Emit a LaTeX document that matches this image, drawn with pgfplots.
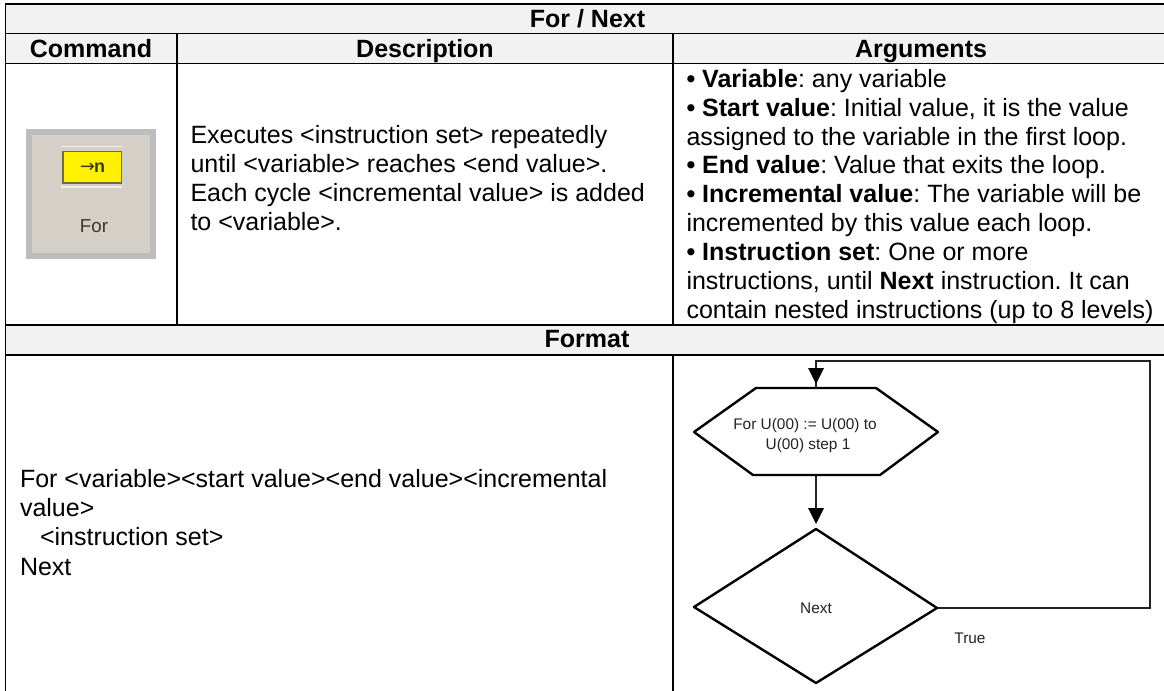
\documentclass[border=0pt]{standalone}
\usepackage{pgfplots}
\pgfplotsset{compat=1.18}
\usepackage{fontspec}
\setmainfont{Liberation Sans}
\newfontfamily\djv{DejaVu Sans}
\frenchspacing
\definecolor{hdr}{HTML}{F2F2F2}
\definecolor{icoOut}{HTML}{BDBDBD}
\definecolor{icoIn}{HTML}{D4D0C8}
\definecolor{icoBd}{HTML}{6E6E3C}
\definecolor{icoTx}{HTML}{3A3A2A}
\definecolor{icoLt}{HTML}{F0EEEA}
\definecolor{fc}{HTML}{222222}
\newcommand{\T}[3]{\node[anchor=base west,inner sep=0pt,outer sep=0pt] at (axis cs:#1,#2) {\fontsize{12.5pt}{14pt}\selectfont\strut #3};}
\newcommand{\C}[3]{\node[anchor=base,inner sep=0pt,outer sep=0pt] at (axis cs:#1,#2) {\fontsize{12.5pt}{14pt}\selectfont\bfseries #3};}
\newcommand{\Sm}[3]{\node[anchor=base,inner sep=0pt,outer sep=0pt,text=fc] at (axis cs:#1,#2) {\fontsize{7.7pt}{9pt}\selectfont #3};}
\begin{document}
\begin{tikzpicture}
\begin{axis}[hide axis,scale only axis,width=582pt,height=345.5pt,
  xmin=0,xmax=1164,ymin=0,ymax=691,y dir=reverse]
\addplot[fill=white,draw=none] coordinates {(0,0)(1164,0)(1164,691)(0,691)} -- cycle;
% shaded rows
\addplot[fill=hdr,draw=none] coordinates {(5,4)(1164,4)(1164,63)(5,63)} -- cycle;
\addplot[fill=hdr,draw=none] coordinates {(5,325)(1164,325)(1164,355)(5,355)} -- cycle;
% table rules
\addplot[black,line width=0.8pt] coordinates {(5,4)(1164,4)};
\addplot[black,line width=0.8pt] coordinates {(5,33.5)(1164,33.5)};
\addplot[black,line width=0.8pt] coordinates {(5,63.5)(1164,63.5)};
\addplot[black,line width=0.8pt] coordinates {(5,325)(1164,325)};
\addplot[black,line width=0.8pt] coordinates {(5,355)(1164,355)};
\addplot[black,line width=0.8pt] coordinates {(5.3,4)(5.3,691)};
\addplot[black,line width=0.8pt] coordinates {(177,33.5)(177,325)};
\addplot[black,line width=0.8pt] coordinates {(673,33.5)(673,325)};
\addplot[black,line width=0.8pt] coordinates {(673,355)(673,691)};
% icon
\addplot[fill=icoOut,draw=none] coordinates {(26,129)(156,129)(156,259)(26,259)} -- cycle;
\addplot[fill=icoIn,draw=none] coordinates {(32,135)(150,135)(150,253)(32,253)} -- cycle;
\addplot[icoLt,line width=0.9pt] coordinates {(61,146.5)(122,146.5)};
\addplot[icoLt,line width=0.9pt] coordinates {(61,187)(122,187)};
\addplot[fill=yellow,draw=icoBd,line width=0.7pt] coordinates {(63,151.5)(121.5,151.5)(121.5,183)(63,183)} -- cycle;
\node[anchor=base,inner sep=0pt,text=icoTx] at (axis cs:92.5,172) {\fontsize{9pt}{9pt}\selectfont{\djv →}\kern-0.3pt{\bfseries n}};
\node[anchor=base,inner sep=0pt,text=icoTx] at (axis cs:94,232.5) {\fontsize{9.4pt}{10pt}\selectfont For};
% headers
\C{587.5}{27}{For / Next}
\C{91}{57}{Command}
\C{425}{57}{Description}
\C{921}{57}{Arguments}
\C{587}{347}{Format}
% description
\T{190.5}{143.5}{Executes <instruction set> repeatedly}
\T{190.5}{172.5}{until <variable> reaches <end value>.}
\T{190.5}{201.5}{Each cycle <incremental value> is added}
\T{190.5}{230}{to <variable>.}
% arguments
\T{686.5}{87}{\textbf{• Variable}: any variable}
\T{686.5}{116}{\textbf{• Start value}: Initial value, it is the value}
\T{686.5}{145}{assigned to the variable in the first loop.}
\T{686.5}{173.5}{\textbf{• End value}: Value that exits the loop.}
\T{686.5}{202.5}{\textbf{• Incremental value}: The variable will be}
\T{686.5}{231}{incremented by this value each loop.}
\T{686.5}{260}{\textbf{• Instruction set}: One or more}
\T{686.5}{289}{instructions, until \textbf{Next} instruction. It can}
\T{686.5}{318}{contain nested instructions (up to 8 levels)}
% format
\T{20}{487.5}{For <variable><start value><end value><incremental}
\T{20}{516.5}{value>}
\T{40}{545}{<instruction set>}
\T{20}{575}{Next}
% flowchart
\addplot[fc,line width=0.85pt] coordinates {(816,388)(816,361)(1150,361)(1150,608)(937,608)};
\addplot[fc,line width=0.85pt] coordinates {(816,475)(816,520)};
\addplot[black,line width=1.2pt,line join=round] coordinates {(756,388)(876,388)(938,432)(880,475)(753,475)(694,432)} -- cycle;
\addplot[black,line width=1.2pt,line join=round] coordinates {(816,529)(937,608)(816,683)(694,607)} -- cycle;
\addplot[fill=black,draw=none] coordinates {(808,368)(824,368)(816,384)} -- cycle;
\addplot[fill=black,draw=none] coordinates {(808,508)(824,508)(816,524)} -- cycle;
\Sm{805}{429}{For U(00) := U(00) to}
\Sm{808}{449}{U(00) step 1}
\Sm{816}{613}{Next}
\Sm{970}{643}{True}
\end{axis}
\end{tikzpicture}
\end{document}
